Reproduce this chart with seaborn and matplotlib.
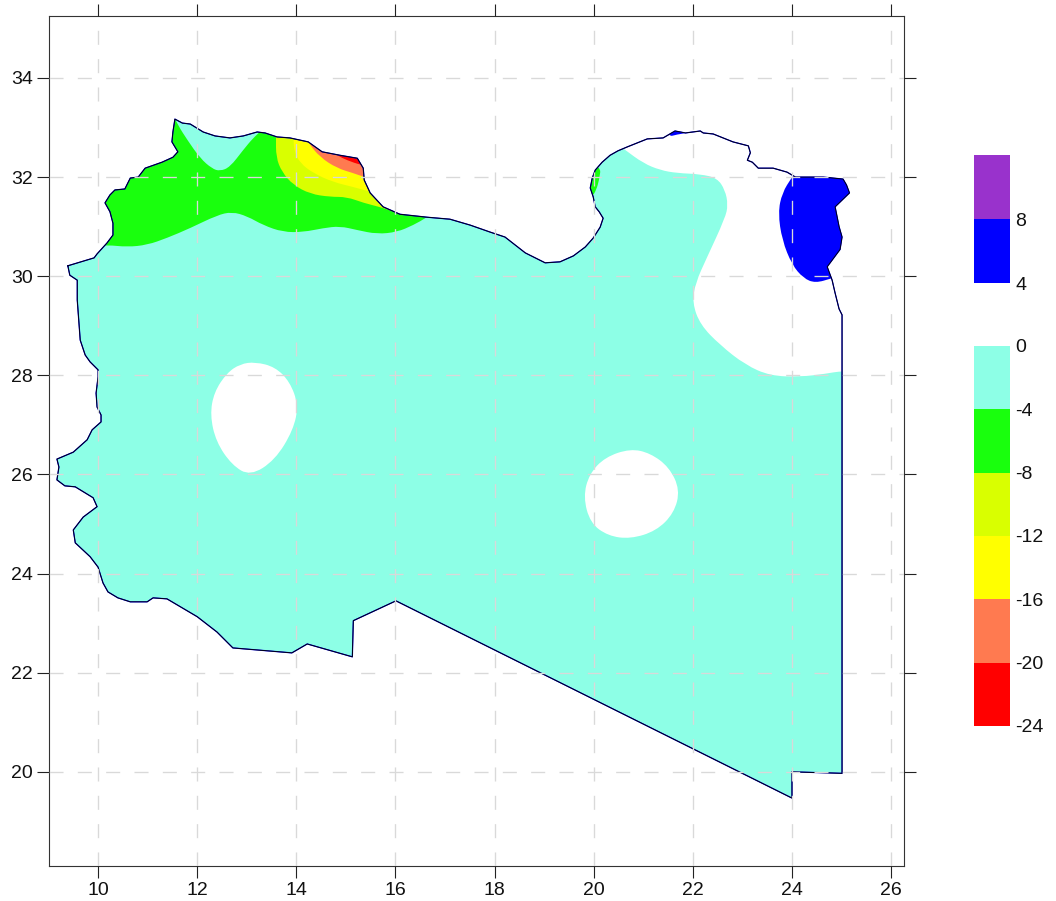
import numpy as np
import pandas as pd
import seaborn as sns
import matplotlib
matplotlib.use('Agg')
import matplotlib.pyplot as plt
from matplotlib.colors import ListedColormap
from matplotlib.path import Path
from matplotlib.patches import PathPatch

#=========== border of the country ===========
border_lon = [9.39, 9.92, 9.98, 10.18, 10.30, 10.30, 10.24, 10.14, 10.24, 10.34, 10.54, 10.65, 10.81, 10.95,
              11.29, 11.51, 11.61, 11.49, 11.51, 11.55, 11.70, 11.86, 12.12, 12.36, 12.66, 12.93, 13.21, 13.37,
              13.61, 13.87, 14.24, 14.52, 14.88, 15.23, 15.35, 15.37, 15.49, 15.75, 16.09, 16.64, 17.10, 17.51,
              17.91, 18.21, 18.62, 19.02, 19.32, 19.59, 19.83, 19.99, 20.13, 20.19, 20.11, 20.03, 19.99, 19.93,
              19.97, 20.03, 20.17, 20.33, 20.49, 20.68,
              21.08, 21.40, 21.64, 21.85, 22.15, 22.21, 22.41, 22.81, 23.12, 23.16, 23.10, 23.20, 23.32, 23.62, 23.90,
              24.07, 24.63, 25.03, 25.10, 25.16, 24.87, 24.91, 24.95, 25.01, 24.97, 24.71, 24.81, 24.87, 24.95,
              25.01, 25.01, 24.00, 24.00, 16.01,
              15.15, 15.13, 14.22, 13.91, 12.72, 12.40, 12.00, 11.39, 11.11, 10.99, 10.65, 10.40, 10.20, 10.10,
              10.00, 9.84, 9.54, 9.50, 9.70, 9.98, 9.90, 9.54, 9.33, 9.17, 9.21, 9.17, 9.50, 9.78, 9.88, 10.06,
              10.06, 9.98, 9.96, 10.00, 10.00, 9.84, 9.74, 9.64, 9.58, 9.58, 9.43, 9.39]
border_lat = [30.21, 30.37, 30.45, 30.67, 30.83, 31.07, 31.30, 31.48, 31.64, 31.74, 31.76, 31.98, 32.00, 32.18,
              32.30, 32.40, 32.51, 32.71, 32.91, 33.17, 33.09, 33.07, 32.91, 32.83, 32.79, 32.83, 32.91, 32.89,
              32.81, 32.79, 32.71, 32.51, 32.44, 32.38, 32.18, 31.94, 31.68, 31.40, 31.25, 31.19, 31.15, 31.03,
              30.89, 30.79, 30.47, 30.27, 30.29, 30.41, 30.59, 30.77, 30.99, 31.17, 31.30, 31.40, 31.60, 31.78,
              31.98, 32.14, 32.30, 32.44, 32.53, 32.61,
              32.77, 32.79, 32.93, 32.89, 32.93, 32.89, 32.87, 32.71, 32.63, 32.49, 32.34, 32.30, 32.18, 32.18, 32.10,
              32.00, 32.00, 31.96, 31.84, 31.68, 31.40, 31.20, 31.00, 30.79, 30.54, 30.19, 29.92, 29.66, 29.34,
              29.22, 19.97, 20.00, 19.47, 23.45,
              23.05, 22.32, 22.58, 22.40, 22.50, 22.82, 23.13, 23.49, 23.51, 23.43, 23.43, 23.51, 23.63, 23.81,
              24.13, 24.34, 24.62, 24.88, 25.14, 25.35, 25.53, 25.75, 25.77, 25.89, 26.15, 26.31, 26.45, 26.70,
              26.90, 27.06, 27.20, 27.36, 27.64, 27.97, 28.11, 28.27, 28.41, 28.71, 29.52, 29.92, 30.02, 30.21]

#=========== contour bands ===========
white_ne_lon = [20.63, 21.00, 21.34, 21.68, 22.15, 22.49, 22.65, 22.71, 22.65, 22.29, 22.05, 21.99, 22.15, 22.55,
                23.06, 23.56, 24.17, 24.67, 25.01, 26.0, 26.2, 20.0, 20.3]
white_ne_lat = [32.55, 32.28, 32.14, 32.08, 32.06, 31.98, 31.74, 31.44, 31.17, 30.39, 29.86, 29.46, 29.02, 28.61,
                28.21, 27.99, 27.97, 28.03, 28.09, 28.1, 33.5, 33.5, 32.8]

white_w_lon = [13.17, 13.57, 13.87, 14.04, 13.94, 13.57, 13.07, 12.70, 12.38, 12.26, 12.34, 12.60, 12.87]
white_w_lat = [28.27, 28.17, 27.87, 27.40, 26.90, 26.29, 25.97, 26.19, 26.66, 27.20, 27.66, 28.05, 28.23]

white_e_lon = [20.74, 21.14, 21.52, 21.74, 21.62, 21.26, 20.74, 20.29, 19.93, 19.79, 19.91, 20.23]
white_e_lat = [26.52, 26.43, 26.15, 25.69, 25.22, 24.86, 24.70, 24.76, 25.02, 25.55, 26.01, 26.35]

green_lon = [10.0, 10.18, 10.59, 10.99, 11.39, 11.86, 12.40, 12.70, 13.01, 13.33, 13.73, 14.14, 14.54, 14.88, 15.23,
             15.63, 16.03, 16.36, 16.64, 17.0, 17.0, 9.5, 9.5]
green_lat = [30.6, 30.63, 30.59, 30.63, 30.77, 30.97, 31.23, 31.30, 31.21, 31.03, 30.89, 30.89, 30.97, 31.01, 30.93,
             30.85, 30.89, 31.03, 31.19, 31.44, 33.5, 33.5, 30.6]

cyan_n_lon = [11.49, 11.61, 11.80, 12.06, 12.30, 12.46, 12.66, 12.93, 13.13, 13.31, 13.47, 13.5, 11.4]
cyan_n_lat = [33.31, 33.05, 32.75, 32.38, 32.17, 32.12, 32.20, 32.55, 32.79, 32.95, 33.15, 33.6, 33.6]

lime_lon = [13.59, 13.59, 13.59, 13.71, 13.94, 14.28, 14.68, 15.02, 15.35, 15.75, 16.09, 16.5, 16.5, 13.59]
lime_lat = [33.05, 32.81, 32.40, 32.10, 31.84, 31.66, 31.60, 31.60, 31.48, 31.38, 31.25, 31.5, 33.5, 33.5]

yellow_lon = [13.94, 13.94, 13.96, 14.08, 14.34, 14.74, 15.15, 15.43, 15.9, 15.9, 13.94]
yellow_lat = [33.05, 32.77, 32.51, 32.28, 32.08, 31.90, 31.80, 31.72, 31.6, 33.5, 33.5]

coral_lon = [14.08, 14.24, 14.48, 14.82, 15.15, 15.37, 15.8, 15.8, 14.08]
coral_lat = [33.05, 32.69, 32.40, 32.18, 32.08, 32.00, 31.9, 33.5, 33.5]

red_lon = [14.68, 14.82, 15.02, 15.31, 15.8, 15.8, 14.68]
red_lat = [32.55, 32.44, 32.34, 32.24, 32.15, 33.5, 33.5]

gulf_lon = [20.15, 20.11, 20.05, 19.97, 19.63, 19.63]
gulf_lat = [32.24, 31.94, 31.74, 31.60, 31.54, 32.24]

blue_n_lon = [21.50, 21.68, 21.89, 21.89, 21.50]
blue_n_lat = [32.81, 32.86, 32.89, 33.15, 33.15]

blue_e_lon = [24.17, 24.00, 23.80, 23.72, 23.80, 24.00, 24.23, 24.47, 24.81, 25.38, 25.6, 24.2]
blue_e_lat = [32.24, 32.00, 31.68, 31.28, 30.73, 30.23, 29.96, 29.86, 29.96, 30.13, 32.5, 32.5]

#=========== legend ===========
low_levels = [0, -4, -8, -12, -16, -20, -24]
low_colors = ['#8DFFE6', '#19FF0D', '#D9FF00', '#FFFF00', '#FF7A50', '#FF0000']
high_levels = ['', 8, 4]
high_colors = ['#9932CC', '#0000FF']

x_ticks = [10, 12, 14, 16, 18, 20, 22, 24, 26]
y_ticks = [20, 22, 24, 26, 28, 30, 32, 34]

sns.set_style('ticks')
plt.rcParams['font.family'] = ['Liberation Sans', 'DejaVu Sans']
plt.rcParams['lines.scale_dashes'] = False


def smooth_patch(lon, lat, color):
    # closed quadratic curve, the points are used as control points
    pts = np.column_stack([lon, lat])
    mids = (pts + np.roll(pts, -1, axis=0)) / 2
    verts = [mids[-1]]
    codes = [Path.MOVETO]
    for p, m in zip(pts, mids):
        verts += [p, m]
        codes += [Path.CURVE3, Path.CURVE3]
    return PathPatch(Path(verts, codes), facecolor=color, edgecolor='none', linewidth=0)


fig = plt.figure(figsize=(10.56, 9.01), dpi=100)
ax = fig.add_axes([49 / 1056, 35 / 901, 855 / 1056, 850 / 901])

country = ax.fill(border_lon, border_lat, color=low_colors[0], linewidth=0)[0]

bands = [(white_ne_lon, white_ne_lat, 'white'),
         (white_w_lon, white_w_lat, 'white'),
         (white_e_lon, white_e_lat, 'white'),
         (green_lon, green_lat, low_colors[1]),
         (cyan_n_lon, cyan_n_lat, low_colors[0]),
         (lime_lon, lime_lat, low_colors[2]),
         (yellow_lon, yellow_lat, low_colors[3]),
         (coral_lon, coral_lat, low_colors[4]),
         (red_lon, red_lat, low_colors[5]),
         (gulf_lon, gulf_lat, low_colors[1]),
         (blue_n_lon, blue_n_lat, high_colors[1]),
         (blue_e_lon, blue_e_lat, high_colors[1])]
for lon, lat, col in bands:
    patch = smooth_patch(lon, lat, col)
    ax.add_patch(patch)
    patch.set_clip_path(country)

border = pd.DataFrame({'lon': border_lon, 'lat': border_lat})
sns.lineplot(data=border, x='lon', y='lat', sort=False, estimator=None, color='#0000FF', linewidth=0.9, ax=ax)
sns.lineplot(data=border, x='lon', y='lat', sort=False, estimator=None, color='black', linewidth=0.65, ax=ax)

ax.set_xlim(9.01, 26.26)
ax.set_ylim(18.10, 35.25)
ax.set_xlabel('')
ax.set_ylabel('')
ax.set_xticks(x_ticks)
ax.set_yticks(y_ticks)
ax.set_axisbelow(False)
ax.grid(True, color='#d9d9d9', linewidth=0.95, linestyle=(0, (10.1, 10.3)))
ax.tick_params(axis='both', direction='out', length=8.6, width=0.8, color='#222222', labelsize=14,
               labelcolor='#111111', top=True, right=True, pad=3)
for side in ax.spines:
    ax.spines[side].set_visible(True)
    ax.spines[side].set_linewidth(0.8)
    ax.spines[side].set_color('#333333')

#=========== legend blocks drawn as heatmaps ===========
ax_low = fig.add_axes([974 / 1056, (901 - 726) / 901, 36 / 1056, 380 / 901])
sns.heatmap(np.arange(len(low_colors)).reshape(-1, 1), cmap=ListedColormap(low_colors), cbar=False,
            xticklabels=False, ax=ax_low)
ax_low.set_yticks(np.arange(len(low_levels)))
ax_low.set_yticklabels(low_levels, rotation=0)

ax_high = fig.add_axes([974 / 1056, (901 - 283) / 901, 36 / 1056, 128 / 901])
sns.heatmap(np.arange(len(high_colors)).reshape(-1, 1), cmap=ListedColormap(high_colors), cbar=False,
            xticklabels=False, ax=ax_high)
ax_high.set_yticks(np.arange(len(high_levels)))
ax_high.set_yticklabels(high_levels, rotation=0)

for a in (ax_low, ax_high):
    a.yaxis.tick_right()
    a.tick_params(axis='y', length=0, pad=4, labelsize=14, labelcolor='#111111', labelright=True, labelleft=False)

fig.savefig('out.png', dpi=100)
